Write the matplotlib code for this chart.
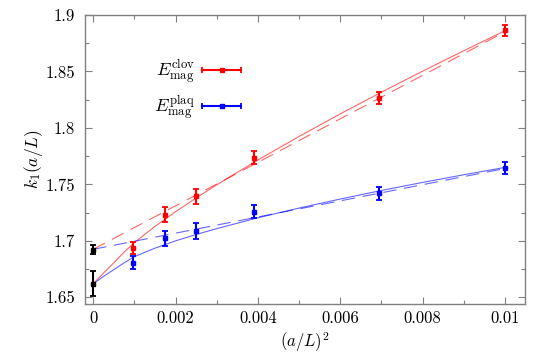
import matplotlib
matplotlib.use("Agg")
import matplotlib.pyplot as plt
from matplotlib.lines import Line2D
from matplotlib.legend_handler import HandlerBase
from matplotlib.ticker import MultipleLocator

plt.rcParams['font.family'] = 'cmr10'
plt.rcParams['mathtext.fontset'] = 'cm'
plt.rcParams['axes.formatter.use_mathtext'] = True

# ---- data ----
L_sizes = [32, 24, 20, 16, 12, 10]
x_pts = [1.0 / L**2 for L in L_sizes]
clov_y = [1.6937, 1.7232, 1.7395, 1.7736, 1.8266, 1.8865]
clov_err = [0.0050, 0.0069, 0.0066, 0.0059, 0.0055, 0.0049]
plaq_y = [1.6807, 1.7021, 1.7085, 1.7257, 1.7420, 1.7647]
plaq_err = [0.0056, 0.0067, 0.0070, 0.0056, 0.0056, 0.0052]

cont_x = [0.0, 0.0]
cont_y = [1.6923, 1.6621]
cont_err = [0.0044, 0.0114]

# fit curves
fit_x = [0.0, 0.00025, 0.0005, 0.00075, 0.001, 0.0015, 0.002, 0.0025, 0.003,
         0.004, 0.005, 0.006, 0.007, 0.008, 0.009, 0.01]
clov_fit = [1.662, 1.6715, 1.6805, 1.6900, 1.6985, 1.7128, 1.7258, 1.7380, 1.7496,
            1.7716, 1.7924, 1.8124, 1.8316, 1.8502, 1.8683, 1.886]
plaq_fit = [1.662, 1.6685, 1.6745, 1.6805, 1.6860, 1.6935, 1.7000, 1.7056, 1.7108,
            1.7204, 1.7290, 1.7370, 1.7446, 1.7517, 1.7585, 1.765]
lin_x = [0.0, 0.01]
clov_lin = [1.6925, 1.885]
plaq_lin = [1.6925, 1.764]

RED = '#ff0000'
BLUE = '#0000ff'
GRAY = '#808080'

fig = plt.figure(figsize=(5.51, 3.55), dpi=100)
ax = fig.add_axes([85 / 551, 1 - 303.5 / 355, 440 / 551, 288.5 / 355])

ax.plot(fit_x, clov_fit, color=RED, lw=0.8, alpha=0.6, zorder=2)
ax.plot(lin_x, clov_lin, color=RED, lw=0.8, alpha=0.6, ls=(0, (12, 7)), zorder=2)
ax.plot(fit_x, plaq_fit, color=BLUE, lw=0.8, alpha=0.6, zorder=2)
ax.plot(lin_x, plaq_lin, color=BLUE, lw=0.8, alpha=0.6, ls=(0, (12, 7)), zorder=2)

ekw = dict(fmt='s', ms=2.2, elinewidth=1.5, capsize=2.5, capthick=1.3, zorder=4)
ax.errorbar(x_pts, clov_y, yerr=clov_err, color=RED, **ekw)
ax.errorbar(x_pts, plaq_y, yerr=plaq_err, color=BLUE, **ekw)
ax.errorbar(cont_x, cont_y, yerr=cont_err, color='black', **ekw)

ax.set_xlim(-0.0002, 0.01049)
ax.set_ylim(1.6445, 1.9)
ax.xaxis.set_minor_locator(MultipleLocator(0.001))
ax.yaxis.set_minor_locator(MultipleLocator(0.025))
ax.set_xticks([0, 0.002, 0.004, 0.006, 0.008, 0.01])
ax.set_xticklabels(['0', '0.002', '0.004', '0.006', '0.008', '0.01'])
ax.set_yticks([1.65, 1.7, 1.75, 1.8, 1.85, 1.9])
ax.set_yticklabels(['1.65', '1.7', '1.75', '1.8', '1.85', '1.9'])
ax.tick_params(which='both', direction='in', top=True, right=True, color=GRAY,
               labelsize=12)
ax.tick_params(axis='x', pad=5)
ax.tick_params(axis='y', pad=7)
ax.tick_params(which='major', length=5, width=0.8)
ax.tick_params(which='minor', length=3, width=0.8)
for s in ax.spines.values():
    s.set_color(GRAY)
    s.set_linewidth(1.0)

ax.set_xlabel(r'$(a/L)^2$', fontsize=12, labelpad=3)
ax.set_ylabel(r'$k_1(a/L)$', fontsize=12.5)
ax.yaxis.set_label_coords(-0.09, 0.5)


class ErrHandler(HandlerBase):
    def create_artists(self, legend, orig_handle, xdescent, ydescent, width,
                       height, fontsize, trans):
        c = orig_handle.get_color()
        y = height / 2 - ydescent
        x0, x1 = -xdescent, width - xdescent
        line = Line2D([x0, x1], [y, y], color=c, lw=1.5)
        caps = Line2D([x0, x1], [y, y], ls='none', marker='|', ms=5, mew=1.3, color=c)
        dot = Line2D([(x0 + x1) / 2], [y], ls='none', marker='s', ms=2.2, color=c)
        for a in (line, caps, dot):
            a.set_transform(trans)
        return [line, caps, dot]


h1 = Line2D([], [], color=RED)
h2 = Line2D([], [], color=BLUE)
ax.legend([h1, h2], [r'$E_{\rm mag}^{\rm clov}$', r'$E_{\rm mag}^{\rm plaq}$'],
          handler_map={Line2D: ErrHandler()}, frameon=False, markerfirst=False,
          loc='center right', bbox_to_anchor=(241 / 551, 1 - 89.5 / 355),
          bbox_transform=fig.transFigure, borderpad=0, borderaxespad=0,
          handlelength=2.15, handletextpad=0.4, labelspacing=0.4, fontsize=13)

fig.savefig('out.png', dpi=100)
